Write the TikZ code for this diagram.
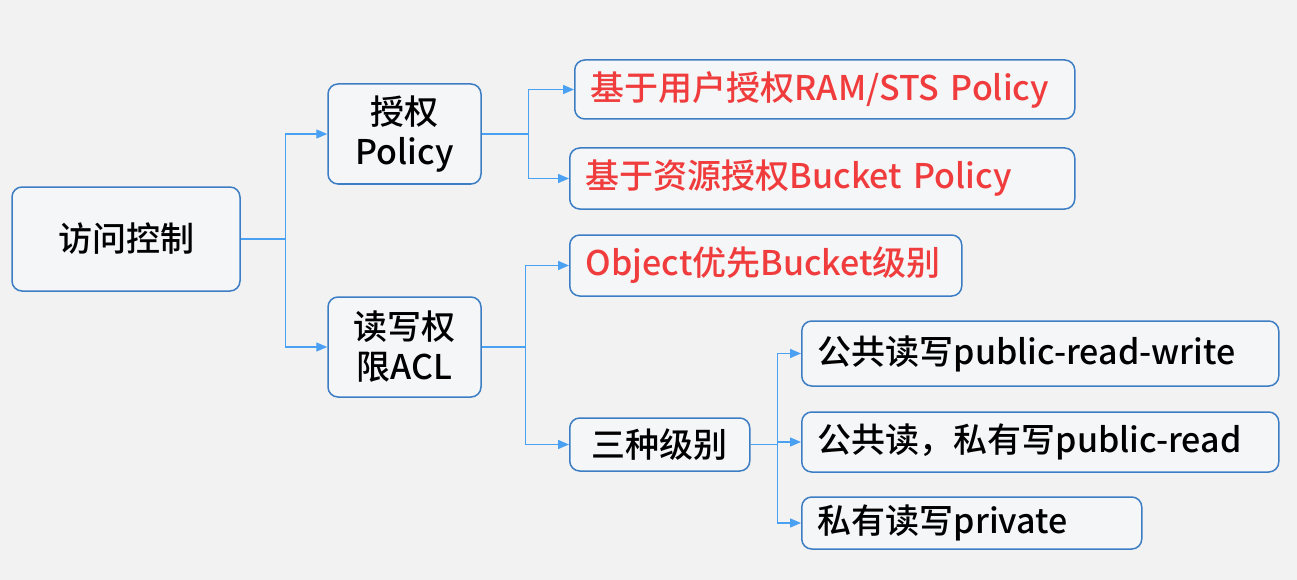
\documentclass[tikz,border=0pt]{standalone}
\usepackage{fontspec}
\setmainfont{Noto Sans CJK SC}[UprightFont=* Medium]
\usetikzlibrary{arrows.meta,positioning}

\definecolor{bgcol}{HTML}{F2F2F2}
\definecolor{boxblue}{HTML}{3C7DC4}
\definecolor{boxfill}{HTML}{F5F6F8}
\definecolor{linkblue}{HTML}{4AA0F2}
\definecolor{hotred}{HTML}{F03C3C}

\begin{document}
\begin{tikzpicture}[
    x=1pt, y=-1pt,
    box/.style={rectangle, draw=boxblue, fill=boxfill, line width=1.5pt, rounded corners=10pt,
        inner xsep=16pt, inner ysep=0pt, font=\fontsize{34}{40}\selectfont},
    leaf/.style={box, anchor=west, align=left},
    hot/.style={text=hotred},
    link/.style={draw=linkblue, line width=1.3pt, -{Triangle[length=11pt, width=9pt]}}
]

% background and frame
\fill[bgcol] (0,0) rectangle (1297,580);
\useasboundingbox (0,0) rectangle (1297,580);

% root
\node[box, minimum width=228pt, minimum height=104pt] (root) at (126,239) {访问控制};

% second level
\node[box, align=center, minimum width=153pt, minimum height=100pt] (auth) at (404.5,134) {授权\\Policy};
\node[box, align=center, minimum width=153pt, minimum height=100pt] (acl) at (404.5,347) {读写权\\限ACL};

% policy leaves
\node[leaf, hot, text width=468pt, minimum height=59pt] (ram) at (574,89.5) {基于用户授权RAM/STS Policy};
\node[leaf, hot, text width=473pt, minimum height=61pt] (bucket) at (569,178.5) {基于资源授权Bucket Policy};

% acl leaves
\node[leaf, hot, text width=360pt, minimum height=61pt] (object) at (569,265.5) {Object优先Bucket级别};
\node[box, anchor=west, align=center, text width=148pt, minimum height=53pt] (levels) at (569,444.5) {三种级别};

% three levels
\node[leaf, text width=445pt, minimum height=65pt] (prw) at (801,353.5) {公共读写public-read-write};
\node[leaf, text width=445pt, minimum height=60pt] (pr) at (801,442) {公共读，私有写public-read};
\node[leaf, text width=308pt, minimum height=52pt] (prv) at (801,523) {私有读写private};

% connectors
\draw[link] (root.east) -- ++(45,0) |- (auth.west);
\draw[link] (root.east) -- ++(45,0) |- (acl.west);
\draw[link] (auth.east) -- ++(47,0) |- (ram.west);
\draw[link] (auth.east) -- ++(47,0) |- (bucket.west);
\draw[link] (acl.east) -- ++(44,0) |- (object.west);
\draw[link] (acl.east) -- ++(44,0) |- (levels.west);
\draw[link] (levels.east) -- ++(27,0) |- (prw.west);
\draw[link] (levels.east) -- ++(27,0) |- (pr.west);
\draw[link] (levels.east) -- ++(27,0) |- (prv.west);

\end{tikzpicture}
\end{document}
